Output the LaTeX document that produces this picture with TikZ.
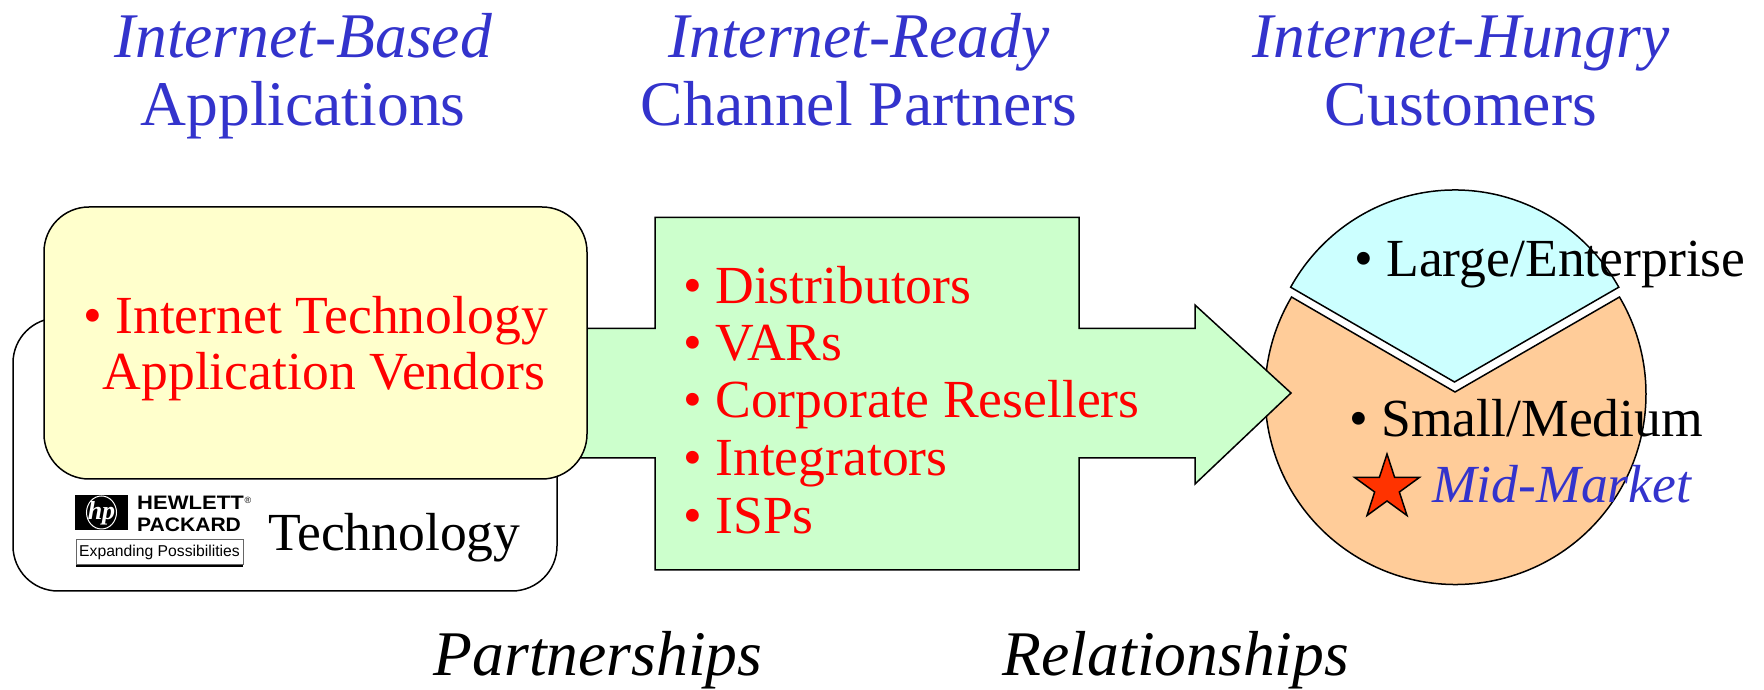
\documentclass[tikz,border=0pt]{standalone}
\usepackage{fontspec}
\setmainfont{Liberation Serif}
\newfontfamily\logofont{Liberation Sans}
\usetikzlibrary{calc}
\usetikzlibrary{shapes}
\definecolor{headblue}{HTML}{3333CC}
\definecolor{arrowgreen}{HTML}{CCFFCC}
\definecolor{boxyellow}{HTML}{FFFFCC}
\definecolor{piecyan}{HTML}{CCFFFF}
\definecolor{pieorange}{HTML}{FFCC99}
\definecolor{starred}{HTML}{FF3300}
\tikzset{
    outline/.style={draw=black, line width=1.5pt},
    bigtext/.style={font=\fontsize{63.6}{63.6}\selectfont, anchor=base, inner sep=0pt},
    bodytext/.style={font=\fontsize{53.6}{53.6}\selectfont, anchor=base west, inner sep=0pt},
    headline/.style={bigtext, text=headblue},
    redtext/.style={bodytext, text=red},
    logotext/.style={anchor=base west, inner sep=0pt, font=\logofont\fontsize{19.5}{19.5}\selectfont\bfseries}
}
\newcommand{\headpair}[5]{\node[headline, font=\fontsize{63.6}{63.6}\selectfont\itshape] (#1top) at ( #2 , #3 ) {#4}; \node[headline] (#1low) at ( #2 , #3 - 68 ) {#5};}
\newcommand{\reditem}[4]{\node[redtext] (#1) at ( #2 , #3 ) {#4};}

\begin{document}
\begin{tikzpicture}[x=1pt, y=1pt]
    \useasboundingbox (0,0) rectangle (1764,690);
    % headings
    \headpair{based}{303}{632}{Internet-Based}{Applications}
    \headpair{ready}{859}{632}{Internet-Ready}{Channel Partners}
    \headpair{hungry}{1461}{632}{Internet-Hungry}{Customers}
    % pie
    \coordinate (lowcorner) at ($(1455.5,296)+(149.4:190.5)$);
    \coordinate (topcorner) at ($(1454.7,308.5)+(150.5:188.5 and 191.5)$);
    \draw[outline, fill=pieorange] (1455,298) -- (lowcorner) arc[start angle=149.4, end angle=390.6, radius=190.5] -- cycle;
    \draw[outline, fill=piecyan] (1454.5,308) -- (topcorner) arc[start angle=150.5, end angle=29.5, x radius=188.5, y radius=191.5] -- cycle;
    % back box
    \draw[outline, fill=white, rounded corners=45pt] (13,99) rectangle (557,372);
    % channel arrow
    \draw[outline, fill=arrowgreen] (560,361.5) -- (655,361.5) -- (655,472.5) -- (1079,472.5) -- (1079,361.5)
        -- (1195,361.5) -- (1195,385) -- (1291,297) -- (1195,206) -- (1195,232) -- (1079,232)
        -- (1079,120) -- (655,120) -- (655,232) -- (560,232) -- cycle;
    % front box
    \draw[outline, fill=boxyellow, rounded corners=45pt] (44,211) rectangle (587,483);
    % left box text
    \reditem{tech}{83}{356}{• Internet Technology}
    \reditem{vendors}{102.5}{300}{Application Vendors}
    % channel list
    \reditem{dist}{683}{386.5}{• Distributors}
    \reditem{vars}{683}{329}{• VARs}
    \reditem{resell}{683}{272}{• Corporate Resellers}
    \reditem{integ}{683}{214}{• Integrators}
    \reditem{isps}{683}{156}{• ISPs}
    % pie text
    \node[bodytext] (large) at (1354,413) {• Large/Enterprise};
    \node[bodytext] (small) at (1349,253) {• Small/Medium};
    \node[bodytext, text=headblue, font=\fontsize{53.6}{53.6}\selectfont\itshape] (mid) at (1432,187) {Mid-Market};
    \node[star, star points=5, star point ratio=2.618, outline, fill=starred, minimum size=68pt, inner sep=0pt] (midstar) at (1387,202) {};
    % logo
    \fill[black] (75,160) rectangle (128,195);
    \node[draw=white, line width=1pt, ellipse, minimum width=30pt, minimum height=33pt, inner sep=0pt] (hpring) at (101.5,177.5) {};
    \node[text=white, inner sep=0pt, font=\fontsize{26}{26}\selectfont\bfseries\itshape] (hp) at (101.5,177) {hp};
    \node[logotext, xscale=1.13] (hewlett) at (137,180) {HEWLETT};
    \node[font=\logofont\fontsize{9}{9}\selectfont, inner sep=0pt] (regmark) at (248,190) {®};
    \node[logotext, xscale=1.08] (packard) at (137,158) {PACKARD};
    \draw[line width=1pt, draw=black!60] (76,125) rectangle (243,150);
    \fill[black] (76,123) rectangle (243,125);
    \node[inner sep=0pt, font=\logofont\fontsize{15.7}{15.7}\selectfont] (expand) at (159.5,138) {Expanding Possibilities};
    \node[bodytext] (techlabel) at (268,139) {Technology};
    % bottom labels
    \node[bigtext, font=\fontsize{63.6}{63.6}\selectfont\itshape] (partner) at (598,14) {Partnerships};
    \node[bigtext, font=\fontsize{63.6}{63.6}\selectfont\itshape] (relate) at (1176,14) {Relationships};
\end{tikzpicture}
\end{document}
